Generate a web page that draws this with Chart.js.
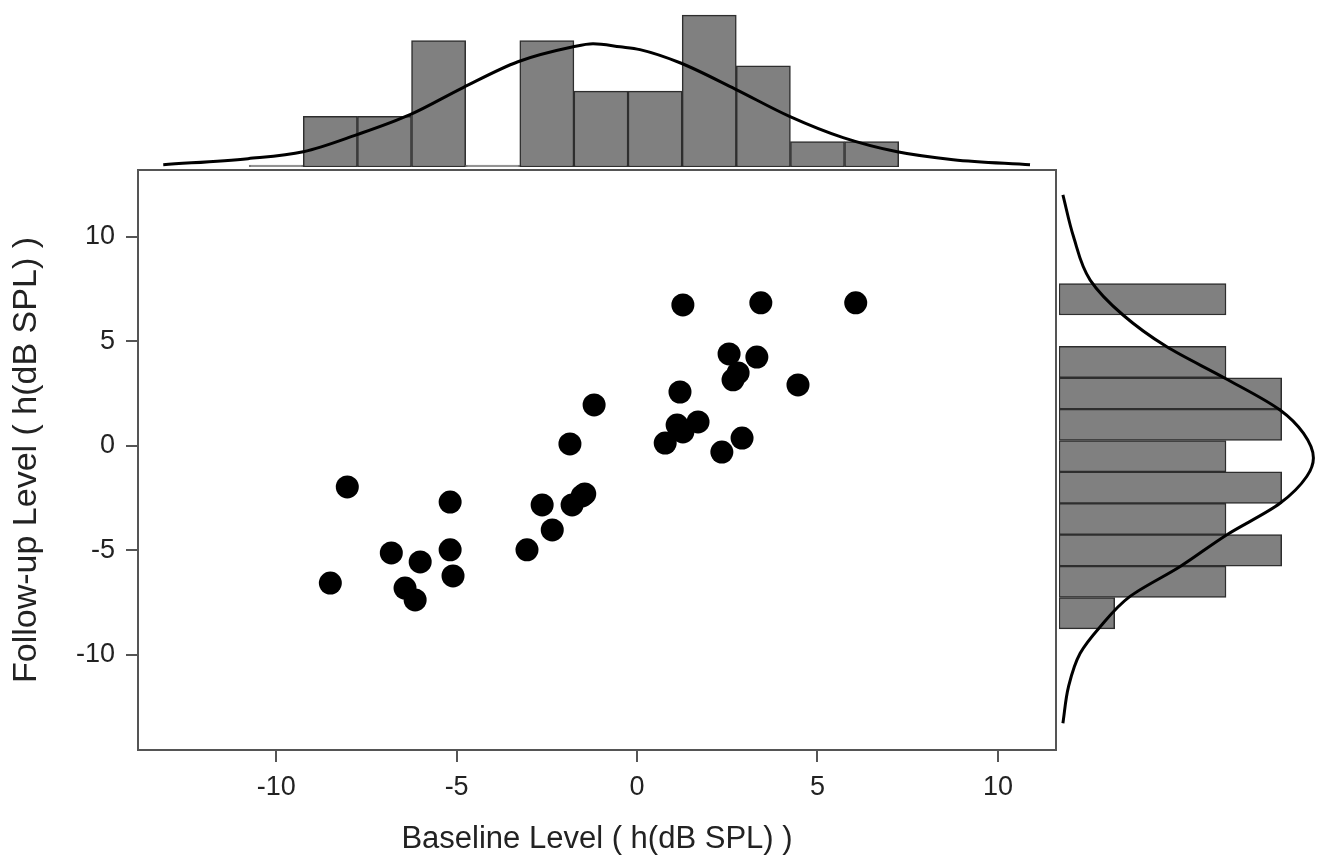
<!DOCTYPE html>
<html lang="en">
<head>
  <meta charset="UTF-8">
  <title>Baseline vs Follow-up Level</title>
  <script src="https://cdn.jsdelivr.net/npm/chart.js"></script>
  <style>
    body {
      margin: 0;
      background: #fff;
      width: 1329px;
      height: 863px;
      overflow: hidden;
      position: relative;
      font-family: "Liberation Sans", Arial, sans-serif;
    }
    .box { position: absolute; }
    #mainBox { left: 0; top: 160px; width: 1070px; height: 703px; }
    #topBox { left: 138px; top: 0; width: 918px; height: 170px; }
    #sideBox { left: 1057px; top: 170px; width: 272px; height: 580px; }
  </style>
</head>
<body>
  <div class="box" id="topBox"><canvas id="topHist"></canvas></div>
  <div class="box" id="sideBox"><canvas id="sideHist"></canvas></div>
  <div class="box" id="mainBox"><canvas id="scatter"></canvas></div>

  <script>
    // scatter: one point per ear
    const baselineLevel = [1.27, 3.43, 6.06, 2.55, 3.32, 2.80, 2.66, 4.46, 1.19, -1.19,
      1.11, 1.69, 1.27, 0.78, 2.91, -1.86, 2.35, -8.03, -5.18, -1.52,
      -2.63, -1.80, -2.35, -3.05, -5.18, -6.81, -6.01, -5.10, -8.50, -6.43,
      -6.15, -1.45];
    const followUpLevel = [6.73, 6.83, 6.83, 4.39, 4.24, 3.48, 3.15, 2.91, 2.57, 1.95,
      0.99, 1.14, 0.66, 0.13, 0.37, 0.09, -0.30, -1.97, -2.69, -2.40,
      -2.83, -2.83, -4.02, -4.97, -4.97, -5.12, -5.55, -6.22, -6.56, -6.80,
      -7.37, -2.30];

    // marginal histogram of baseline (bin width 1.5)
    const topBinCenters = [-10, -8.5, -7, -5.5, -4, -2.5, -1, 0.5, 2, 3.5, 5, 6.5];
    const topCounts = [0, 2, 2, 5, 0, 5, 3, 3, 6, 4, 1, 1];
    // fitted normal curve over it
    const topCurveX = [-13.13, -10.78, -9.25, -7.76, -6.29, -4.82, -3.30, -1.77, -1.22,
      -0.47, 0.08, 1.19, 2.72, 4.24, 5.71, 7.21, 8.76, 10.89];
    const topCurveY = [0.09, 0.33, 0.60, 1.28, 2.07, 3.14, 4.16, 4.75, 4.87,
      4.75, 4.64, 4.12, 3.08, 1.99, 1.16, 0.60, 0.29, 0.09];

    // marginal histogram of follow-up
    const sideBinCenters = [7, 5.5, 4, 2.5, 1, -0.5, -2, -3.5, -5, -6.5, -8];
    const sideCounts = [3, 0, 3, 4, 4, 3, 4, 3, 4, 3, 1];
    const sideCurveY = [11.99, 10.0, 7.92, 6.25, 4.74, 3.23, 1.71, 0.60, -0.58,
      -1.47, -2.75, -4.26, -5.78, -7.21, -8.65, -9.92, -11.52, -13.26];
    const sideCurveX = [0.07, 0.26, 0.56, 1.15, 1.93, 2.98, 3.97, 4.39, 4.57,
      4.45, 3.97, 3.01, 2.17, 1.27, 0.74, 0.38, 0.17, 0.07];

    const axisTicks = [-10, -5, 0, 5, 10];
    const xRange = [-13.83, 11.61];
    const yRange = [-14.54, 13.18];

    const BAR_FILL = '#808080';
    const BAR_EDGE = '#2e2e2e';
    const AXIS = '#555';
    const TEXT = '#222';
    const FONT = '"Liberation Sans", Arial, sans-serif';

    Chart.defaults.animation = false;
    Chart.defaults.responsive = true;
    Chart.defaults.maintainAspectRatio = false;
    Chart.defaults.plugins.legend.display = false;
    Chart.defaults.plugins.tooltip.enabled = false;
    Chart.defaults.font.family = FONT;

    const framePlugin = {
      id: 'frame',
      beforeDatasetsDraw(chart) {
        const { ctx, chartArea: a } = chart;
        ctx.save();
        ctx.strokeStyle = AXIS;
        ctx.lineWidth = 2;
        ctx.strokeRect(a.left, a.top, a.right - a.left, a.bottom - a.top);
        ctx.restore();
      }
    };

    function fixedTicks(scale) {
      scale.ticks = axisTicks.map(v => ({ value: v }));
    }

    // pin the axis boxes so the plot frame lands where the marginal charts expect it
    function fitX(s) {
      s.height = 113;
      s.paddingLeft = 0;
      s.paddingRight = 0;
    }
    function fitY(s) {
      s.width = 138;
      s.paddingTop = 0;
      s.paddingBottom = 0;
    }

    // main scatter
    new Chart(document.getElementById('scatter'), {
      type: 'scatter',
      data: {
        datasets: [{
          data: baselineLevel.map((x, i) => ({ x: x, y: followUpLevel[i] })),
          pointRadius: 11.5,
          pointBackgroundColor: '#000',
          pointBorderWidth: 0
        }]
      },
      options: {
        layout: { autoPadding: false, padding: { top: 10, right: 14, left: 0, bottom: 0 } },
        scales: {
          x: {
            type: 'linear',
            min: xRange[0], max: xRange[1],
            afterBuildTicks: fixedTicks,
            afterFit: fitX,
            border: { display: false },
            grid: { drawOnChartArea: false, drawTicks: true, tickLength: 12, color: AXIS, lineWidth: 2 },
            ticks: { color: TEXT, font: { size: 27 }, padding: 9, maxRotation: 0 },
            title: {
              display: true, text: 'Baseline Level ( h(dB SPL) )',
              color: TEXT, font: { size: 31 }, padding: { top: 0, bottom: 5 }
            }
          },
          y: {
            type: 'linear',
            min: yRange[0], max: yRange[1],
            afterBuildTicks: fixedTicks,
            afterFit: fitY,
            border: { display: false },
            grid: { drawOnChartArea: false, drawTicks: true, tickLength: 12, color: AXIS, lineWidth: 2 },
            ticks: { color: TEXT, font: { size: 27 }, padding: 11 },
            title: {
              display: true, text: 'Follow-up Level ( h(dB SPL) )',
              color: TEXT, font: { size: 34 }, padding: { top: 6, bottom: 0 }
            }
          }
        }
      },
      plugins: [framePlugin]
    });

    // top histogram + normal curve
    new Chart(document.getElementById('topHist'), {
      type: 'bar',
      data: {
        datasets: [{
          type: 'line',
          data: topCurveX.map((x, i) => ({ x: x, y: topCurveY[i] })),
          borderColor: '#000',
          borderWidth: 3,
          pointRadius: 0,
          cubicInterpolationMode: 'monotone',
          clip: 4,
          order: 0
        }, {
          data: topBinCenters.map((x, i) => ({ x: x, y: topCounts[i] })),
          backgroundColor: BAR_FILL,
          borderColor: ctx => (ctx.raw && ctx.raw.y === 0) ? '#7a7a7a' : BAR_EDGE,
          borderWidth: 1.5,
          borderSkipped: false,
          minBarLength: 2,
          barPercentage: 1,
          categoryPercentage: 1,
          order: 1
        }]
      },
      options: {
        layout: { autoPadding: false, padding: { top: 0, right: 0, left: 0, bottom: 3 } },
        scales: {
          x: { type: 'linear', offset: false, min: xRange[0], max: xRange[1], display: false },
          y: { type: 'linear', min: 0, max: 6.6, display: false }
        }
      }
    });

    // side histogram + normal curve
    new Chart(document.getElementById('sideHist'), {
      type: 'bar',
      data: {
        datasets: [{
          type: 'line',
          data: sideCurveX.map((x, i) => ({ x: x, y: sideCurveY[i] })),
          borderColor: '#000',
          borderWidth: 3,
          pointRadius: 0,
          cubicInterpolationMode: 'monotone',
          clip: 4,
          order: 0
        }, {
          data: sideBinCenters.map((y, i) => ({ x: sideCounts[i], y: y })),
          backgroundColor: BAR_FILL,
          borderColor: BAR_EDGE,
          borderWidth: 1.5,
          borderSkipped: false,
          barPercentage: 1,
          categoryPercentage: 1,
          order: 1
        }]
      },
      options: {
        indexAxis: 'y',
        layout: { autoPadding: false, padding: { top: 0, right: 0, left: 2, bottom: 0 } },
        scales: {
          x: { type: 'linear', min: 0, max: 4.85, display: false },
          y: { type: 'linear', offset: false, min: yRange[0], max: yRange[1], display: false }
        }
      }
    });
  </script>
</body>
</html>
